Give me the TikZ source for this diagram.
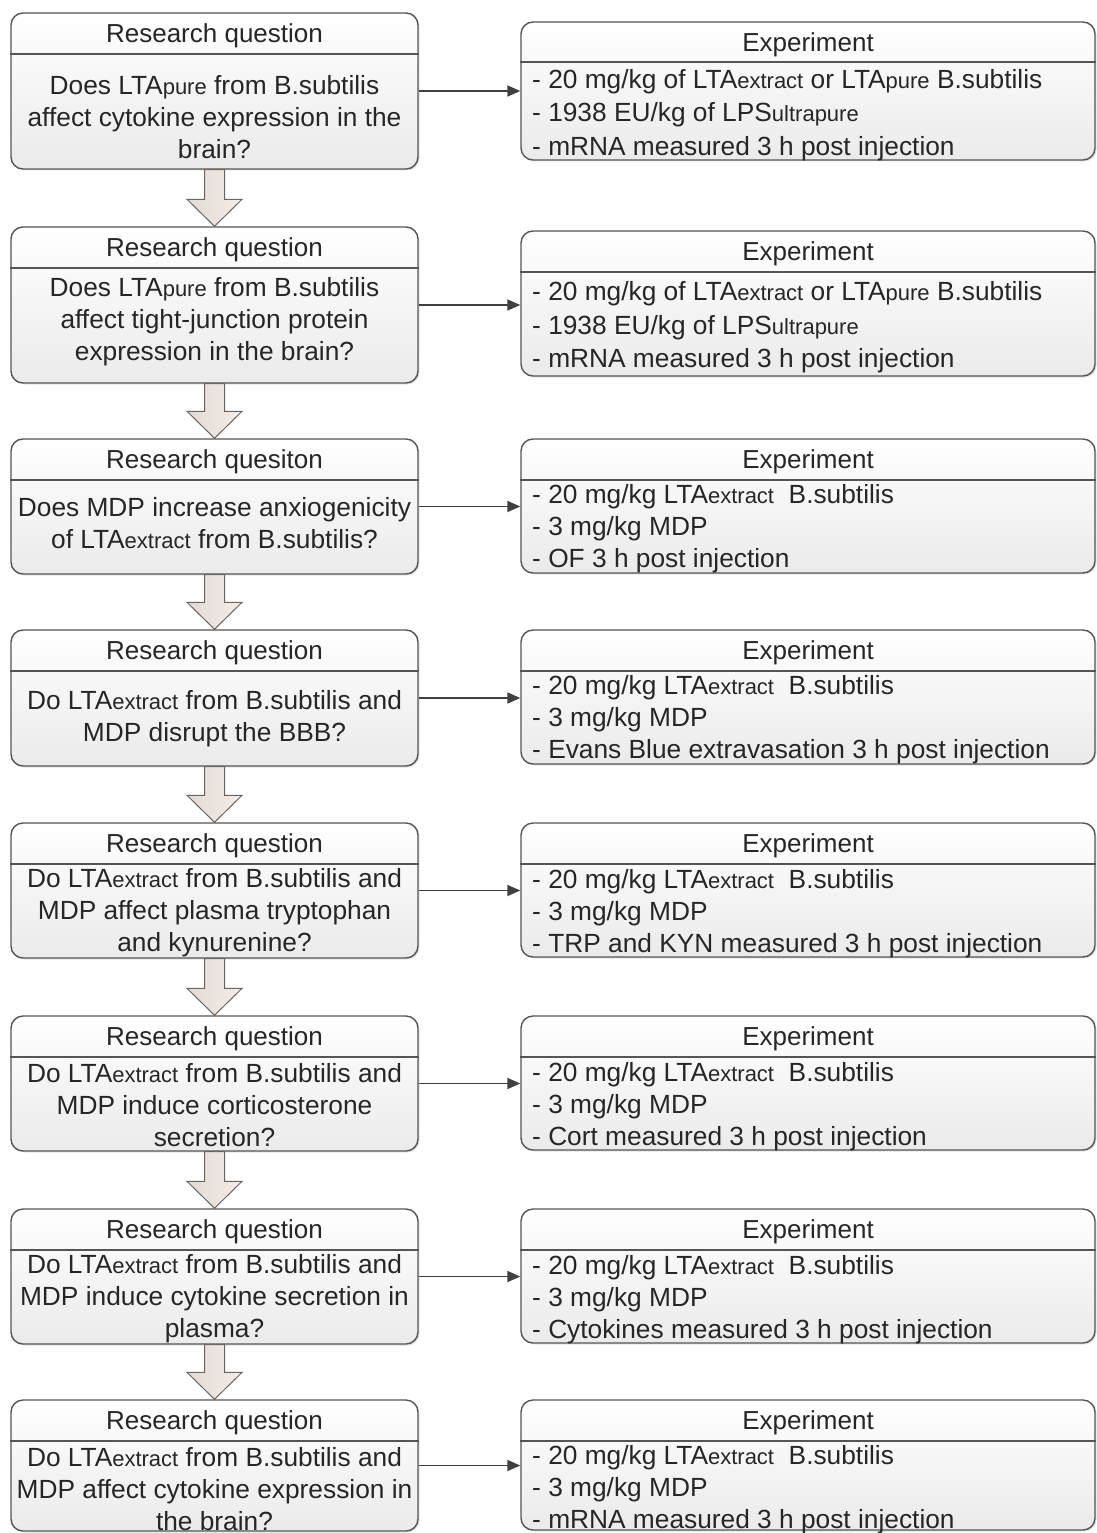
\documentclass[tikz,border=0pt]{standalone}
\usepackage{fontspec}
\setmainfont{Liberation Sans}
\usetikzlibrary{arrows.meta,calc,shadows}
\definecolor{txt}{HTML}{262626}
\definecolor{edge}{HTML}{555555}
\definecolor{arrL}{HTML}{E2DBD5}
\definecolor{arrR}{HTML}{F5ECE5}
\newcommand\sbt[1]{{\fontsize{22}{22}\selectfont #1}}
\tikzset{
  box/.style={draw=edge, line width=1.4pt, rounded corners=12pt, top color=white, bottom color=black!8,
    drop shadow={shadow xshift=1.5pt, shadow yshift=-1.5pt, opacity=0.22}, inner sep=0pt},
  qbox/.style={box, minimum width=407pt},
  ebox/.style={box, minimum width=574pt},
  divider/.style={draw=edge, line width=1.4pt},
  ttl/.style={font=\fontsize{26}{32}\selectfont, text=txt, inner sep=0pt},
  qtxt/.style={font=\fontsize{26.3}{32}\selectfont, text=txt, inner sep=0pt, align=center},
  etxt/.style={font=\fontsize{26.3}{32}\selectfont, text=txt, inner sep=0pt, align=left, anchor=west},
  etxtw/.style={etxt, font=\fontsize{26.3}{33.5}\selectfont},
  harrow/.style={draw=black!75, line width=1.8pt, -{Triangle[length=13pt,width=11pt]}},
  darrow/.style={draw=black!60, line width=1pt, left color=arrL, right color=arrR}
}
\newcommand\downarr[2]{%
  \path[darrow] ($(#1.south)+(-10,0)$) -- ($(#2.north)+(-10,-27)$) -- ($(#2.north)+(-27.5,-27)$)
    -- (#2.north) -- ($(#2.north)+(27.5,-27)$) -- ($(#2.north)+(10,-27)$) -- ($(#1.south)+(10,0)$) -- cycle;}
\begin{document}
\begin{tikzpicture}[x=1pt,y=-1pt]
\useasboundingbox (0,0) rectangle (1096,1533);

% ---------- Row 1
\node[qbox, minimum height=156pt] (q1) at (214.5,91) {};
\node[ebox, minimum height=138pt] (e1) at (808,91) {};
\draw[divider] (q1.west |- 0,54) -- (q1.east |- 0,54);
\draw[divider] (e1.west |- 0,62) -- (e1.east |- 0,62);
\node[ttl] (q1t) at (214.5,35.5) {Research question};
\node[qtxt] (q1b) at (214.5,117) {Does LTA\sbt{pure} from B.subtilis\\affect cytokine expression in the\\brain?};
\node[ttl] (e1t) at (808,44.5) {Experiment};
\node[etxtw] (e1b) at (532,115) {- 20 mg/kg of LTA\sbt{extract} or LTA\sbt{pure} B.subtilis\\- 1938 EU/kg of LPS\sbt{ultrapure}\\- mRNA measured 3 h post injection};

% ---------- Row 2
\node[qbox, minimum height=156pt] (q2) at (214.5,305) {};
\node[ebox, minimum height=145pt] (e2) at (808,303.5) {};
\draw[divider] (q2.west |- 0,268) -- (q2.east |- 0,268);
\draw[divider] (e2.west |- 0,272) -- (e2.east |- 0,272);
\node[ttl] (q2t) at (214.5,249.5) {Research question};
\node[qtxt] (q2b) at (214.5,321.5) {Does LTA\sbt{pure} from B.subtilis\\affect tight-junction protein\\expression in the brain?};
\node[ttl] (e2t) at (808,253.5) {Experiment};
\node[etxtw] (e2b) at (532,327.5) {- 20 mg/kg of LTA\sbt{extract} or LTA\sbt{pure} B.subtilis\\- 1938 EU/kg of LPS\sbt{ultrapure}\\- mRNA measured 3 h post injection};

% ---------- Row 3
\node[qbox, minimum height=135pt] (q3) at (214.5,506.5) {};
\node[ebox, minimum height=134pt] (e3) at (808,506) {};
\draw[divider] (q3.west |- 0,480) -- (q3.east |- 0,480);
\draw[divider] (e3.west |- 0,480) -- (e3.east |- 0,480);
\node[ttl] (q3t) at (214.5,461.5) {Research quesiton};
\node[qtxt] (q3b) at (214.5,523) {Does MDP increase anxiogenicity\\of LTA\sbt{extract} from B.subtilis?};
\node[ttl] (e3t) at (808,461.5) {Experiment};
\node[etxt] (e3b) at (532,529) {- 20 mg/kg LTA\sbt{extract}\ \ B.subtilis\\- 3 mg/kg MDP\\- OF 3 h post injection};

% ---------- Row 4
\node[qbox, minimum height=136pt] (q4) at (214.5,698) {};
\node[ebox, minimum height=134pt] (e4) at (808,697) {};
\draw[divider] (q4.west |- 0,671) -- (q4.east |- 0,671);
\draw[divider] (e4.west |- 0,671) -- (e4.east |- 0,671);
\node[ttl] (q4t) at (214.5,652.5) {Research question};
\node[qtxt] (q4b) at (214.5,718.5) {Do LTA\sbt{extract} from B.subtilis and\\MDP disrupt the BBB?};
\node[ttl] (e4t) at (808,652.5) {Experiment};
\node[etxt] (e4b) at (532,720) {- 20 mg/kg LTA\sbt{extract}\ \ B.subtilis\\- 3 mg/kg MDP\\- Evans Blue extravasation 3 h post injection};

% ---------- Row 5
\node[qbox, minimum height=135pt] (q5) at (214.5,890.5) {};
\node[ebox, minimum height=134pt] (e5) at (808,890) {};
\draw[divider] (q5.west |- 0,864) -- (q5.east |- 0,864);
\draw[divider] (e5.west |- 0,864) -- (e5.east |- 0,864);
\node[ttl] (q5t) at (214.5,845.5) {Research question};
\node[qtxt] (q5b) at (214.5,912.5) {Do LTA\sbt{extract} from B.subtilis and\\MDP affect plasma tryptophan\\and kynurenine?};
\node[ttl] (e5t) at (808,845.5) {Experiment};
\node[etxt] (e5b) at (532,914) {- 20 mg/kg LTA\sbt{extract}\ \ B.subtilis\\- 3 mg/kg MDP\\- TRP and KYN measured 3 h post injection};

% ---------- Row 6
\node[qbox, minimum height=135pt] (q6) at (214.5,1083.5) {};
\node[ebox, minimum height=134pt] (e6) at (808,1083) {};
\draw[divider] (q6.west |- 0,1057) -- (q6.east |- 0,1057);
\draw[divider] (e6.west |- 0,1057) -- (e6.east |- 0,1057);
\node[ttl] (q6t) at (214.5,1038.5) {Research question};
\node[qtxt] (q6b) at (214.5,1105) {Do LTA\sbt{extract} from B.subtilis and\\MDP induce corticosterone\\secretion?};
\node[ttl] (e6t) at (808,1038.5) {Experiment};
\node[etxt] (e6b) at (532,1107) {- 20 mg/kg LTA\sbt{extract}\ \ B.subtilis\\- 3 mg/kg MDP\\- Cort measured 3 h post injection};

% ---------- Row 7
\node[qbox, minimum height=135pt] (q7) at (214.5,1276.5) {};
\node[ebox, minimum height=134pt] (e7) at (808,1276) {};
\draw[divider] (q7.west |- 0,1250) -- (q7.east |- 0,1250);
\draw[divider] (e7.west |- 0,1250) -- (e7.east |- 0,1250);
\node[ttl] (q7t) at (214.5,1231.5) {Research question};
\node[qtxt] (q7b) at (214.5,1299) {Do LTA\sbt{extract} from B.subtilis and\\MDP induce cytokine secretion in\\plasma?};
\node[ttl] (e7t) at (808,1231.5) {Experiment};
\node[etxt] (e7b) at (532,1300) {- 20 mg/kg LTA\sbt{extract}\ \ B.subtilis\\- 3 mg/kg MDP\\- Cytokines measured 3 h post injection};

% ---------- Row 8
\node[qbox, minimum height=131pt] (q8) at (214.5,1465.5) {};
\node[ebox, minimum height=130pt] (e8) at (808,1465) {};
\draw[divider] (q8.west |- 0,1441) -- (q8.east |- 0,1441);
\draw[divider] (e8.west |- 0,1441) -- (e8.east |- 0,1441);
\node[ttl] (q8t) at (214.5,1422.5) {Research question};
\node[qtxt] (q8b) at (214.5,1489) {Do LTA\sbt{extract} from B.subtilis and\\MDP affect cytokine expression in\\the brain?};
\node[ttl] (e8t) at (808,1422.5) {Experiment};
\node[etxt] (e8b) at (532,1490) {- 20 mg/kg LTA\sbt{extract}\ \ B.subtilis\\- 3 mg/kg MDP\\- mRNA measured 3 h post injection};

% ---------- horizontal arrows
\foreach \i in {1,...,8} {
  \draw[harrow] (q\i.east) -- (q\i.east -| e\i.west);
}
% ---------- down arrows
\downarr{q1}{q2}
\downarr{q2}{q3}
\downarr{q3}{q4}
\downarr{q4}{q5}
\downarr{q5}{q6}
\downarr{q6}{q7}
\downarr{q7}{q8}
\end{tikzpicture}
\end{document}
